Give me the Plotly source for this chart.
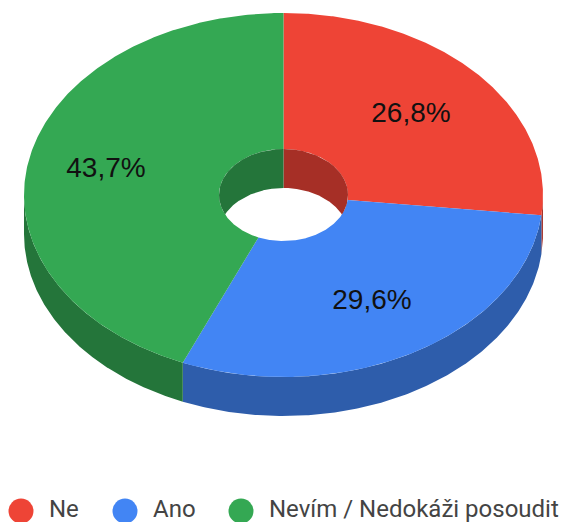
import numpy as np
import plotly.graph_objects as go

# Data
categories = ["Ne", "Ano", "Nevím / Nedokáži posoudit"]
values = [26.8, 29.6, 43.7]
percent_labels = ["26,8%", "29,6%", "43,7%"]

# Styles
top_colors = ["#EE4436", "#4285F4", "#34A853"]
side_colors = ["#A62F26", "#2E5DAB", "#24753A"]

# Pixel geometry of the tilted ring
CX, CY, RX, RY = 283.5, 195.0, 259.5, 182.0
HX, HY = 64.5, 46.0
DEPTH = 39.0
label_xy = [(411, 115), (372, 302), (106, 170)]
legend_marker_x = [21, 125, 241]
legend_text_x = [49, 153, 269]
LEGEND_Y = 511

total = sum(values)
edges = np.concatenate([[0], np.cumsum(values)]) / total * 2 * np.pi


def ell(t, rx, ry, dy=0.0):
    return CX + rx * np.sin(t), CY - ry * np.cos(t) + dy


fig = go.Figure()


def poly(x, y, color):
    fig.add_trace(go.Scatter(
        x=np.asarray(x), y=np.asarray(y), mode="lines", fill="toself",
        fillcolor=color, line=dict(width=0, color=color),
        hoverinfo="skip", showlegend=False))


# outer front wall
for i in range(3):
    a, b = max(edges[i], np.pi / 2), min(edges[i + 1], 3 * np.pi / 2)
    if b <= a:
        continue
    t = np.linspace(a, b, 200)
    x, y = ell(t, RX, RY)
    xd, yd = ell(t[::-1], RX, RY, DEPTH)
    poly(np.r_[x, xd, x[0]], np.r_[y, yd, y[0]], side_colors[i])

# top surface
for i in range(3):
    t = np.linspace(edges[i], edges[i + 1], 300)
    x, y = ell(t, RX, RY)
    xi, yi = ell(t[::-1], HX, HY)
    poly(np.r_[x, xi, x[0]], np.r_[y, yi, y[0]], top_colors[i])

# visible rear part of the hole wall (slice that owns each rear angle)
for i in range(3):
    for lo, hi in [(-np.pi / 2, np.pi / 2), (3 * np.pi / 2, 5 * np.pi / 2)]:
        a, b = max(edges[i], lo), min(edges[i + 1], hi)
        if b <= a:
            continue
        sx = np.linspace(HX * np.sin(a), HX * np.sin(b), 300)
        h = np.sqrt(np.clip(1 - (sx / HX) ** 2, 0, 1)) * HY
        upper = CY - h
        lower = np.minimum(CY + h, upper + DEPTH)
        poly(np.r_[CX + sx, (CX + sx)[::-1]], np.r_[upper, lower[::-1]], side_colors[i])

# percentage labels
for (lx, ly), s in zip(label_xy, percent_labels):
    fig.add_trace(go.Scatter(
        x=[lx], y=[ly], mode="text", text=[s], textposition="middle center",
        textfont=dict(family="Liberation Sans, Arial, sans-serif", size=28, color="#111111"),
        hoverinfo="skip", showlegend=False))

# legend
for name, col, mx, tx in zip(categories, top_colors, legend_marker_x, legend_text_x):
    fig.add_trace(go.Scatter(
        x=[mx], y=[LEGEND_Y], mode="markers",
        marker=dict(size=25, color=col, line=dict(width=0)),
        hoverinfo="skip", showlegend=False, cliponaxis=False))
    fig.add_trace(go.Scatter(
        x=[tx], y=[LEGEND_Y], mode="text", text=[name], textposition="middle right",
        textfont=dict(family="Roboto, Arial, sans-serif", size=24, color="#444444"),
        hoverinfo="skip", showlegend=False, cliponaxis=False))

fig.update_layout(
    width=563, height=522, margin=dict(l=0, r=0, t=0, b=0),
    paper_bgcolor="white", plot_bgcolor="white", showlegend=False,
    xaxis=dict(range=[0, 563], visible=False, fixedrange=True),
    yaxis=dict(range=[522, 0], visible=False, fixedrange=True),
)
fig.write_html("out.html", config={"displayModeBar": False},
               post_script="document.body.style.margin='0';document.body.style.overflow='hidden';")
